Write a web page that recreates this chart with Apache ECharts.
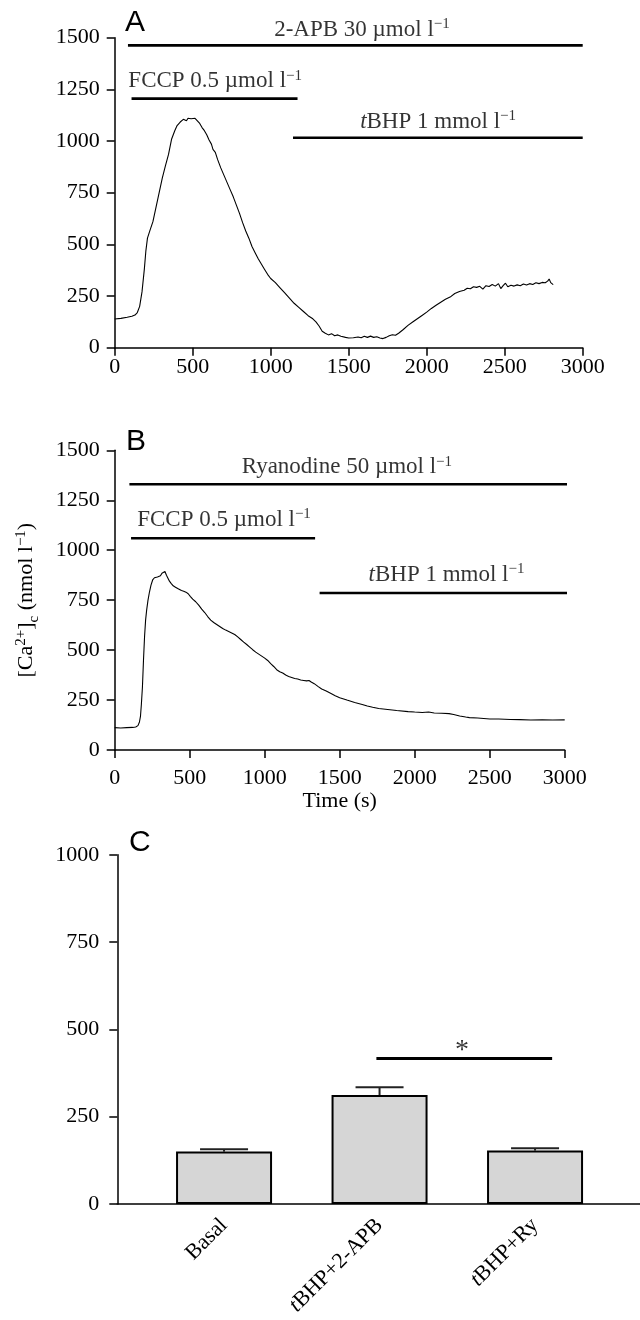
<!DOCTYPE html>
<html>
<head>
<meta charset="utf-8">
<script src="https://cdn.jsdelivr.net/npm/echarts@6/dist/echarts.min.js"></script>
<style>
  html, body { margin: 0; padding: 0; background: #fff; }
  #chart { width: 640px; height: 1320px; }
</style>
</head>
<body>
<div id="chart"></div>
<script>
// ---------------- DATA ----------------
// Panel A: [Ca2+]c trace with 2-APB
const timeA = [0,40,80,110,130,145,160,175,190,200,210,225,245,265,285,305,325,345,365,385,400,420,440,450,460,470,480,490,500,515,530,545,560,575,590,605,620,630,645,660,680,700,720,740,760,780,800,820,840,860,880,900,920,940,960,980,1000,1030,1060,1090,1120,1150,1180,1210,1240,1270,1290,1310,1330,1350,1370,1390,1410,1430,1450,1480,1500,1530,1560,1580,1600,1620,1640,1660,1680,1700,1720,1740,1760,1780,1800,1820,1850,1880,1910,1940,1970,2000,2030,2060,2090,2120,2150,2180,2210,2240,2260,2280,2300,2320,2340,2360,2380,2400,2420,2440,2460,2475,2490,2505,2520,2540,2560,2580,2600,2620,2640,2660,2680,2700,2720,2740,2760,2775,2785,2795,2805,2811];
const caA = [139,142,147,152,158,170,200,270,380,470,530,565,610,680,750,820,880,935,1010,1050,1075,1092,1105,1112,1098,1110,1102,1108,1100,1110,1098,1085,1065,1050,1030,1005,985,960,945,910,870,835,800,765,730,690,650,605,565,530,490,460,430,405,380,355,335,315,290,265,240,215,195,175,155,140,125,105,80,70,62,68,58,62,55,50,47,48,52,48,55,50,56,50,53,47,44,50,58,63,60,70,88,108,124,140,156,172,190,205,220,234,245,262,272,278,288,285,295,292,297,283,300,296,306,298,310,286,300,312,295,302,298,304,300,308,303,310,306,314,310,316,314,322,332,315,318,305];

// Panel B: [Ca2+]c trace with ryanodine
const timeB = [0,40,80,120,140,155,165,172,178,185,192,199,206,213,222,232,242,253,265,275,285,295,305,315,325,335,345,355,365,376,390,405,420,431,445,460,475,490,505,520,540,560,580,600,620,640,660,680,700,720,740,760,780,800,820,840,860,880,900,920,940,960,980,1000,1020,1040,1060,1080,1100,1120,1140,1160,1180,1200,1220,1240,1260,1280,1295,1310,1330,1357,1380,1410,1439,1470,1500,1548,1600,1650,1684,1720,1760,1820,1880,1956,2000,2050,2093,2130,2180,2229,2260,2300,2340,2365,2420,2460,2501,2560,2600,2638,2700,2774,2850,2920,3000];
const caB = [112,110,112,113,115,122,140,170,230,317,450,567,650,700,750,792,825,851,862,870,866,876,872,885,880,893,875,860,845,834,822,815,808,804,798,795,790,782,768,755,742,725,705,688,668,650,638,628,618,608,600,593,586,578,566,553,540,528,515,502,490,480,470,460,448,432,418,402,392,385,375,368,363,358,355,350,348,346,348,340,332,317,305,295,284,272,262,250,238,228,220,214,208,203,198,192,190,188,190,185,184,182,178,170,165,162,160,158,155,155,154,153,152,150,151,150,151];

// Treatment bars (start time, end time, level) and their labels
const barsA = [[85, 3000, 1463], [108, 1172, 1205], [1143, 3000, 1016]];
const textA = ['2-APB 30 µmol l{sup|−1}', 'FCCP 0.5 µmol l{sup|−1}', '{it|t}BHP 1 mmol l{sup|−1}'];
const textPosA = [[1585, 1537], [644, 1290], [2073, 1092]];

const barsB = [[98, 3028, 1330], [109, 1336, 1060], [1366, 3034, 786]];
const textB = ['Ryanodine 50 µmol l{sup|−1}', 'FCCP 0.5 µmol l{sup|−1}', '{it|t}BHP 1 mmol l{sup|−1}'];
const textPosB = [[1548, 1416], [729, 1151], [2212, 876]];

// Panel C: bar chart
const groups = ['Basal', 'tBHP+2-APB', 'tBHP+Ry'];
const means = [150, 312, 153];
const sems = [7, 22, 7];
const sigSpan = [[0.98, 417], [2.11, 417]];
const sigStar = [1.53, 440];

const xTicksTrace = [0, 3000, 500];
const yTicksTrace = [0, 1500, 250];
const yTicksBar = [0, 1000, 250];

// ---------------- STYLE ----------------
const SERIF = 'Liberation Serif';
const SANS = 'Liberation Sans';
const FS = 22;   // tick labels
const FA = 23;   // annotation text
const rich = {
  sup: { fontFamily: SERIF, fontSize: 15, padding: [0, 0, 11, 0], color: '#000' },
  sub: { fontFamily: SERIF, fontSize: 15, padding: [14, 0, 0, 0], color: '#000' }
};
const plain = v => String(v);

function valueAxis(gi, ticks, labelMargin, extra) {
  return Object.assign({
    type: 'value', gridIndex: gi, min: ticks[0], max: ticks[1], interval: ticks[2],
    axisLine: { show: true, onZero: false, lineStyle: { color: '#000', width: 1.5 } },
    axisTick: { show: true, length: 8, lineStyle: { color: '#000', width: 1.5 } },
    axisLabel: { color: '#000', fontFamily: SERIF, fontSize: FS, margin: labelMargin, formatter: plain },
    splitLine: { show: false }
  }, extra || {});
}

const series = [];
function addTrace(xi, t, v) {
  series.push({
    type: 'line', xAxisIndex: xi, yAxisIndex: xi, symbol: 'none', silent: true,
    data: t.map((x, i) => [x, v[i]]),
    lineStyle: { color: '#000', width: 1.1 }
  });
}
function addBars(xi, bars, texts, pos) {
  bars.forEach(b => {
    series.push({
      type: 'line', xAxisIndex: xi, yAxisIndex: xi, symbol: 'none', clip: false, silent: true,
      data: [[b[0], b[2]], [b[1], b[2]]],
      lineStyle: { color: '#000', width: 2.6 }
    });
  });
  series.push({
    type: 'scatter', xAxisIndex: xi, yAxisIndex: xi, symbolSize: 0, clip: false, silent: true,
    data: pos.map((p, i) => ({ value: p, name: texts[i] })),
    label: {
      show: true, position: 'inside', color: '#000', fontFamily: SERIF, fontSize: FA, lineHeight: 24,
      formatter: p => p.name,
      rich: {
        sup: rich.sup,
        it: { fontFamily: SERIF, fontSize: FA, fontStyle: 'italic', color: '#000', lineHeight: 24 }
      }
    }
  });
}
addTrace(0, timeA, caA);
addBars(0, barsA, textA, textPosA);
addTrace(1, timeB, caB);
addBars(1, barsB, textB, textPosB);

// Panel C bars
series.push({
  type: 'bar', xAxisIndex: 2, yAxisIndex: 2, barWidth: 96, silent: true,
  data: means,
  itemStyle: { color: '#d6d6d6', borderColor: '#000', borderWidth: 2 },
  z: 3
});
series.push({
  type: 'custom', xAxisIndex: 2, yAxisIndex: 2, silent: true, z: 2,
  data: means.map((m, i) => [i, m, m + sems[i]]),
  renderItem: function (params, api) {
    const base = api.coord([api.value(0), api.value(1)]);
    const top = api.coord([api.value(0), api.value(2)]);
    const hw = 24;
    return {
      type: 'group',
      children: [
        { type: 'line', shape: { x1: base[0], y1: base[1], x2: top[0], y2: top[1] }, style: { stroke: '#222', lineWidth: 2 } },
        { type: 'line', shape: { x1: top[0] - hw, y1: top[1], x2: top[0] + hw, y2: top[1] }, style: { stroke: '#222', lineWidth: 2 } }
      ]
    };
  }
});
series.push({
  type: 'line', xAxisIndex: 3, yAxisIndex: 3, symbol: 'none', silent: true,
  data: sigSpan, lineStyle: { color: '#000', width: 3 }
});
series.push({
  type: 'scatter', xAxisIndex: 3, yAxisIndex: 3, symbolSize: 0, silent: true,
  data: [sigStar],
  label: { show: true, position: 'inside', formatter: '*', color: '#000', fontFamily: SERIF, fontSize: 28 }
});

const letterStyle = { fontFamily: SANS, fontSize: 30, fontWeight: 'normal', color: '#000' };
const option = {
  animation: false,
  backgroundColor: '#fff',
  title: [
    { text: 'A', left: 125, top: 8, padding: 0, textStyle: letterStyle },
    { text: 'B', left: 126, top: 427, padding: 0, textStyle: letterStyle },
    { text: 'C', left: 129, top: 828, padding: 0, textStyle: letterStyle }
  ],
  grid: [
    { left: 114.7, top: 37.7, width: 468, height: 310, outerBoundsMode: 'none' },
    { left: 114.7, top: 450.3, width: 450, height: 299.7, outerBoundsMode: 'none' },
    { left: 146.3, top: 854.8, width: 466.5, height: 349.2, outerBoundsMode: 'none' },
    { left: 117.3, top: 854.8, width: 522.7, height: 349.2, outerBoundsMode: 'none' }
  ],
  xAxis: [
    valueAxis(0, xTicksTrace, 9),
    valueAxis(1, xTicksTrace, 17, {
      name: 'Time (s)', nameLocation: 'middle', nameGap: 40, nameMoveOverlap: false,
      nameTextStyle: { color: '#000', fontFamily: SERIF, fontSize: FS }
    }),
    {
      type: 'category', gridIndex: 2, data: groups,
      axisLine: { show: false }, axisTick: { show: false },
      axisLabel: {
        color: '#000', fontFamily: SERIF, fontSize: FS, rotate: 45, margin: 18, interval: 0,
        formatter: v => v.indexOf('tBHP') === 0 ? '{it|t}' + v.slice(1) : v,
        rich: { it: { fontFamily: SERIF, fontSize: FS, fontStyle: 'italic', color: '#000' } }
      }
    },
    {
      type: 'value', gridIndex: 3, min: -0.686, max: 2.675,
      axisLine: { show: true, onZero: false, lineStyle: { color: '#000', width: 1.5 } },
      axisTick: { show: false }, axisLabel: { show: false }, splitLine: { show: false }
    }
  ],
  yAxis: [
    valueAxis(0, yTicksTrace, 15),
    valueAxis(1, yTicksTrace, 15, {
      name: '[Ca{sup|2+}]{sub|c} (nmol l{sup|−1})', nameLocation: 'middle', nameGap: 76, nameRotate: 90,
      nameMoveOverlap: false,
      nameTextStyle: {
        color: '#000', fontFamily: SERIF, fontSize: FS, lineHeight: 24,
        rich: { sup: rich.sup, sub: rich.sub }
      }
    }),
    { type: 'value', gridIndex: 2, min: yTicksBar[0], max: yTicksBar[1], show: false },
    valueAxis(3, yTicksBar, 18)
  ],
  series: series
};

const chart = echarts.init(document.getElementById('chart'), null, { renderer: 'canvas' });
chart.setOption(option);
</script>
</body>
</html>
